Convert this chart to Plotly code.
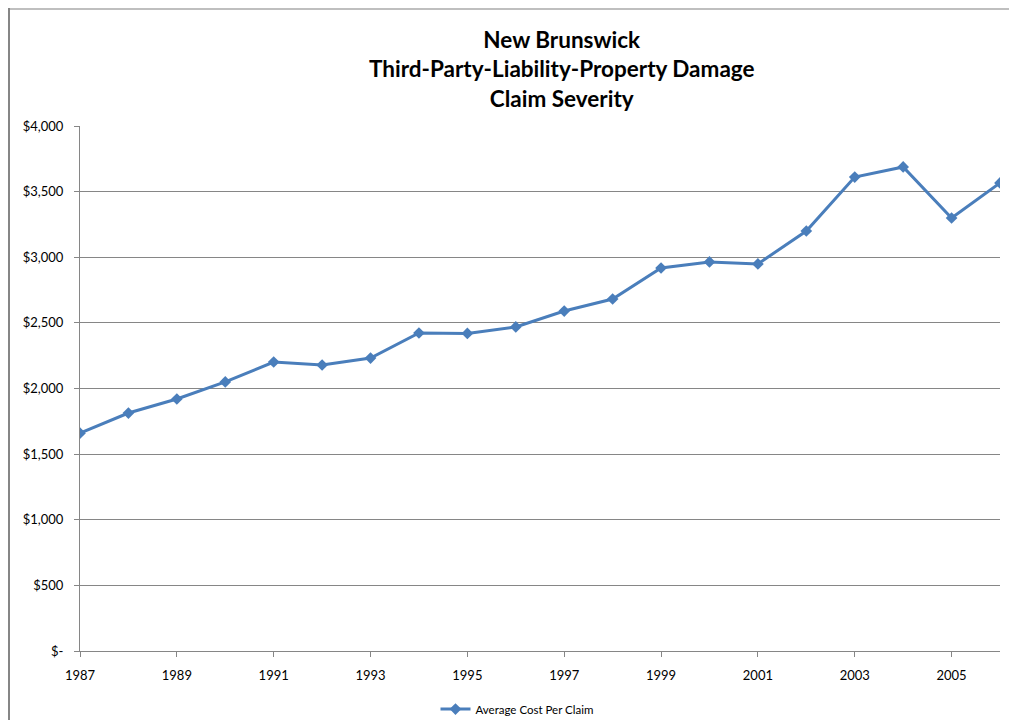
import plotly.graph_objects as go

years = list(range(1987, 2007))
avg_cost = [1660, 1813, 1920, 2050, 2202, 2179, 2232, 2423, 2420, 2469,
            2590, 2682, 2918, 2964, 2949, 3200, 3611, 3688, 3299, 3566]
y_ticks = [0, 500, 1000, 1500, 2000, 2500, 3000, 3500, 4000]
y_labels = ["$-", "$500", "$1,000", "$1,500", "$2,000", "$2,500", "$3,000", "$3,500", "$4,000"]
title_text = "<b>New Brunswick<br>Third-Party-Liability-Property Damage<br>Claim Severity</b>"

FONT = "Lato, 'Open Sans', sans-serif"
W, H = 1001, 712
L, R, T, B = 72, 9, 118, 69
PW, PH = W - L - R, H - T - B

fig = go.Figure()
fig.add_trace(go.Scatter(
    x=years, y=avg_cost, mode="lines+markers", name="Average Cost Per Claim",
    line=dict(color="#4A7EBB", width=3),
    marker=dict(symbol="diamond", size=9, color="#4A7EBB"),
))

fig.update_layout(
    width=W, height=H,
    margin=dict(l=L, r=R, t=T, b=B, autoexpand=False),
    paper_bgcolor="white", plot_bgcolor="white",
    font=dict(family=FONT, size=13, color="black"),
    showlegend=True,
    legend=dict(orientation="h", x=0.475, xanchor="center",
                yref="container", y=0.0154, yanchor="middle",
                font=dict(family=FONT, size=11.5)),
    xaxis=dict(range=[1987, 2006], tick0=1987, dtick=2, showgrid=False,
               showline=True, linecolor="#868686", linewidth=1,
               ticks="outside", ticklen=5, tickcolor="#868686",
               ticklabelstandoff=7,
               tickfont=dict(size=13), zeroline=False),
    yaxis=dict(range=[0, 4000], tickvals=y_ticks, ticktext=y_labels,
               showgrid=True, gridcolor="#868686", gridwidth=1,
               showline=True, linecolor="#868686", linewidth=1,
               ticks="outside", ticklen=5, tickcolor="#868686",
               ticklabelstandoff=8,
               tickfont=dict(size=13), zeroline=False),
)

fig.add_annotation(text=title_text, xref="paper", yref="paper",
                   x=0.524, xanchor="center", y=(PH + T - 16) / PH, yanchor="top",
                   showarrow=False, align="center",
                   font=dict(family=FONT, size=22.5, color="black"))

# chart-area border (top and left visible)
fig.add_shape(type="line", xref="paper", yref="paper",
              x0=(0 - L) / PW, x1=(W - L) / PW,
              y0=(PH + T - 1) / PH, y1=(PH + T - 1) / PH,
              line=dict(color="#BFBFBF", width=2))
fig.add_shape(type="line", xref="paper", yref="paper",
              x0=(1 - L) / PW, x1=(1 - L) / PW,
              y0=(PH + T) / PH, y1=-B / PH,
              line=dict(color="#868686", width=2))

fig.write_html("out.html")
